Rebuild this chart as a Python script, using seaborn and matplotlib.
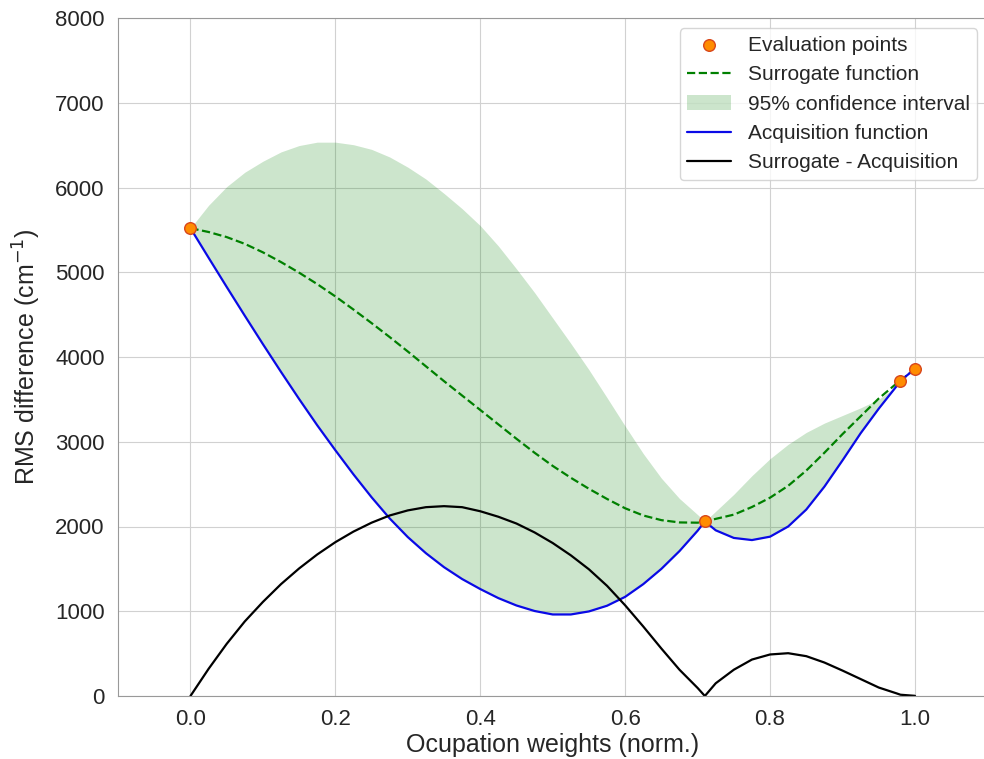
import matplotlib
matplotlib.use('Agg')
import matplotlib.pyplot as plt
import numpy as np
import seaborn as sns

# Occupation weight grid (normalised) and curves
weights = [0.0, 0.025, 0.05, 0.075, 0.1, 0.125, 0.15, 0.175, 0.2, 0.225,
           0.25, 0.275, 0.3, 0.325, 0.35, 0.375, 0.4, 0.425, 0.45, 0.475,
           0.5, 0.525, 0.55, 0.575, 0.6, 0.625, 0.65, 0.675, 0.7, 0.71,
           0.725, 0.75, 0.775, 0.8, 0.825, 0.85, 0.875, 0.9, 0.925, 0.95,
           0.975, 0.98, 1.0]

surrogate = [5520, 5475, 5415, 5335, 5235, 5120, 4995, 4860, 4715, 4560,
             4400, 4235, 4065, 3890, 3715, 3545, 3375, 3205, 3035, 2870,
             2715, 2575, 2445, 2325, 2215, 2130, 2075, 2048, 2045, 2060,
             2090, 2140, 2230, 2340, 2480, 2660, 2870, 3090, 3300, 3510,
             3690, 3720, 3860]

ci_upper = [5520, 5790, 6010, 6180, 6310, 6420, 6495, 6535, 6535, 6505,
            6450, 6360, 6240, 6100, 5930, 5750, 5550, 5310, 5040, 4760,
            4460, 4160, 3850, 3520, 3185, 2860, 2570, 2330, 2140, 2060,
            2180, 2380, 2600, 2800, 2970, 3110, 3220, 3310, 3400, 3500,
            3660, 3720, 3860]

acquisition = [5520, 5172, 4827, 4487, 4152, 3824, 3504, 3194, 2900, 2615,
               2345, 2095, 1875, 1685, 1520, 1380, 1262, 1155, 1068, 1003,
               962, 962, 998, 1065, 1170, 1320, 1500, 1710, 1950, 2060,
               1955, 1865, 1840, 1880, 2000, 2200, 2470, 2780, 3100, 3390,
               3660, 3720, 3860]

difference = [0, 320, 615, 880, 1110, 1320, 1505, 1670, 1815, 1940,
              2045, 2130, 2190, 2228, 2240, 2228, 2180, 2115, 2035, 1930,
              1805, 1660, 1495, 1300, 1070, 820, 560, 310, 95, 0,
              150, 310, 430, 490, 505, 470, 395, 300, 200, 100,
              30, 15, 2]

eval_x = [0.0, 0.71, 0.98, 1.0]
eval_y = [5520, 2060, 3720, 3860]

sns.set_style('whitegrid', {'axes.edgecolor': '0.6', 'grid.color': '0.82'})
plt.rcParams['font.family'] = ['Liberation Sans', 'DejaVu Sans']

fig = plt.figure(figsize=(9.84, 7.59), dpi=100)
ax = fig.add_axes([118 / 984, 63 / 759, 869.4 / 984, 678 / 759])

sns.scatterplot(x=eval_x, y=eval_y, ax=ax, s=70, color='darkorange',
                edgecolor='#d8461a', linewidth=1.0, zorder=5,
                label='Evaluation points')
sns.lineplot(x=weights, y=surrogate, ax=ax, color='green', linestyle='--',
             linewidth=1.6, label='Surrogate function')
ax.fill_between(weights, acquisition, ci_upper, color='green', alpha=0.2,
                linewidth=0, label='95% confidence interval')
sns.lineplot(x=weights, y=acquisition, ax=ax, color='#0a0ae6', linewidth=1.6,
             label='Acquisition function')
sns.lineplot(x=weights, y=difference, ax=ax, color='black', linewidth=1.6,
             label='Surrogate - Acquisition')

ax.set_xlim(-0.1, 1.1)
ax.set_ylim(0, 8000)
ax.set_xticks(np.arange(0, 1.01, 0.2))
ax.set_yticks(range(0, 8001, 1000))
ax.set_xlabel('Ocupation weights (norm.)', fontsize=18, color='0.15', labelpad=2)
ax.set_ylabel('RMS difference (cm$^{-1}$)', fontsize=18, color='0.15', labelpad=9)
ax.tick_params(labelsize=16, colors='0.15', pad=6)

ax.legend(loc='upper right', fontsize=15, frameon=True, framealpha=0.8,
          handlelength=2.1, handletextpad=0.8, borderpad=0.35,
          labelspacing=0.5)

plt.savefig('out.png', dpi=100)
